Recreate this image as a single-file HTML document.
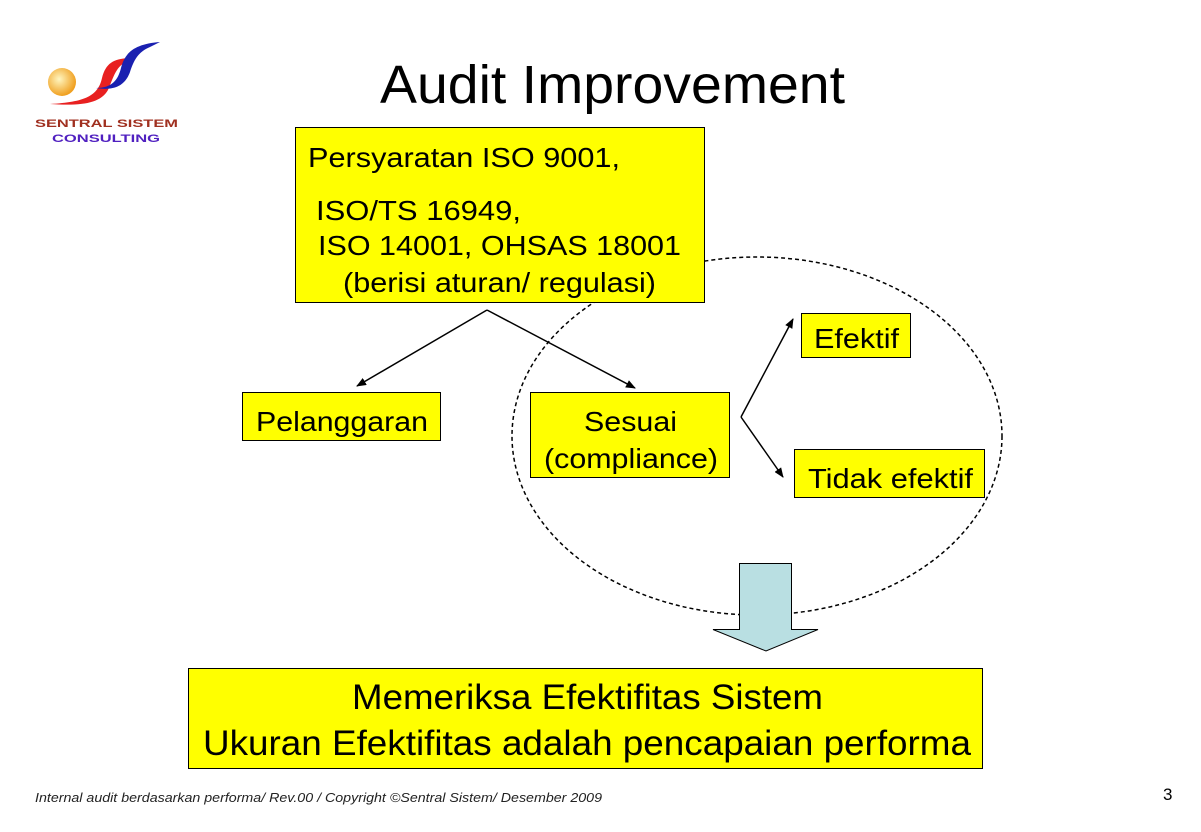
<!DOCTYPE html>
<html><head><meta charset="utf-8"><style>
html,body{margin:0;padding:0;background:#fff;}
svg{display:block;font-family:"Liberation Sans",sans-serif;}
</style></head><body>
<svg width="1201" height="832" viewBox="0 0 1201 832" xmlns="http://www.w3.org/2000/svg">
<defs>
<marker id="ah" markerWidth="10" markerHeight="8" refX="9" refY="4" orient="auto" markerUnits="userSpaceOnUse">
<path d="M0,0 L10,4 L0,8 Z" fill="#000"/></marker>
<radialGradient id="sun" cx="0.4" cy="0.4" r="0.6"><stop offset="0" stop-color="#fff6c0"/><stop offset="1" stop-color="#f0a020"/></radialGradient>
</defs>
<!-- logo -->
<circle cx="62" cy="82" r="14" fill="url(#sun)"/>
<path d="M50,104 C85,102 98,96 102,78 C106,62 115,58 132,58 L128,61 C116,66 114,76 108,90 C100,104 80,106 50,104 Z" fill="#e82020"/>
<path d="M96,88 C112,88 118,80 121,68 C125,52 135,44 160,42 L150,47 C138,52 134,60 130,72 C125,86 114,91 96,88 Z" fill="#1a20b0"/>
<text x="35" y="127" font-size="11" fill="#a03020" font-weight="bold" textLength="143" lengthAdjust="spacingAndGlyphs">SENTRAL SISTEM</text>
<text x="52" y="142" font-size="11" fill="#5020c0" font-weight="bold" textLength="108" lengthAdjust="spacingAndGlyphs">CONSULTING</text>
<!-- title -->
<text x="380" y="103" font-size="54" textLength="465" lengthAdjust="spacingAndGlyphs">Audit Improvement</text>
<!-- ellipse -->
<ellipse cx="757" cy="436" rx="245" ry="179" fill="none" stroke="#000" stroke-width="1.5" stroke-dasharray="4,3"/>
<!-- lines -->
<g stroke="#000" stroke-width="1.5" fill="none">
<line x1="487" y1="310" x2="357" y2="386" marker-end="url(#ah)"/>
<line x1="487" y1="310" x2="635" y2="388" marker-end="url(#ah)"/>
<line x1="741" y1="417" x2="793" y2="319" marker-end="url(#ah)"/>
<line x1="741" y1="417" x2="783" y2="477" marker-end="url(#ah)"/>
</g>
<!-- boxes -->
<g fill="#ffff00" stroke="#000" stroke-width="1">
<rect x="295.5" y="127.5" width="409" height="175"/>
<rect x="242.5" y="392.5" width="198" height="48"/>
<rect x="530.5" y="392.5" width="199" height="85"/>
<rect x="801.5" y="313.5" width="109" height="44"/>
<rect x="794.5" y="449.5" width="190" height="48"/>
<rect x="188.5" y="668.5" width="794" height="100"/>
</g>
<g font-size="28" fill="#000" lengthAdjust="spacingAndGlyphs">
<text x="308" y="167" textLength="312" lengthAdjust="spacingAndGlyphs">Persyaratan ISO 9001,</text>
<text x="316" y="220" textLength="205" lengthAdjust="spacingAndGlyphs">ISO/TS 16949,</text>
<text x="318" y="255" textLength="363" lengthAdjust="spacingAndGlyphs">ISO 14001, OHSAS 18001</text>
<text x="343" y="292" textLength="313" lengthAdjust="spacingAndGlyphs">(berisi aturan/ regulasi)</text>
<text x="256" y="431" textLength="172" lengthAdjust="spacingAndGlyphs">Pelanggaran</text>
<text x="584" y="431" textLength="93" lengthAdjust="spacingAndGlyphs">Sesuai</text>
<text x="544" y="468" textLength="174" lengthAdjust="spacingAndGlyphs">(compliance)</text>
<text x="814" y="348" textLength="85" lengthAdjust="spacingAndGlyphs">Efektif</text>
<text x="808" y="488" textLength="165" lengthAdjust="spacingAndGlyphs">Tidak efektif</text>
</g>
<g font-size="35" fill="#000">
<text x="352" y="709" textLength="471" lengthAdjust="spacingAndGlyphs">Memeriksa Efektifitas Sistem</text>
<text x="203" y="755" textLength="768" lengthAdjust="spacingAndGlyphs">Ukuran Efektifitas adalah pencapaian performa</text>
</g>
<!-- block arrow -->
<path d="M739.5,563.5 H791.5 V629.5 H818 L766,651 L713,629.5 H739.5 Z" fill="#b9dfe2" stroke="#000" stroke-width="1"/>
<!-- footer -->
<text x="35" y="802" font-size="13" font-style="italic" fill="#222" textLength="567" lengthAdjust="spacingAndGlyphs">Internal audit berdasarkan performa/ Rev.00 /  Copyright  ©Sentral Sistem/  Desember 2009</text>
<text x="1163" y="800" font-size="17">3</text>
</svg>
</body></html>
